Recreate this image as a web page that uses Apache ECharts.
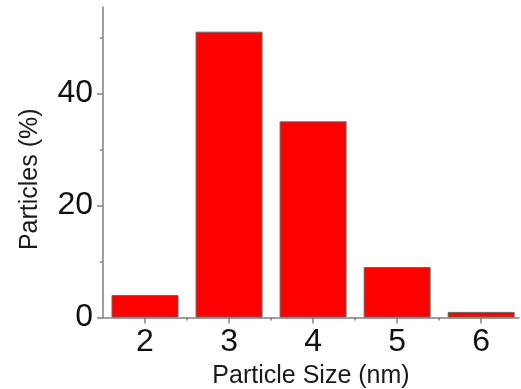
<!DOCTYPE html>
<html>
<head>
<meta charset="utf-8">
<script src="https://cdn.jsdelivr.net/npm/echarts@6/dist/echarts.min.js"></script>
<style>
html,body{margin:0;padding:0;background:#fff;}
#chart{width:521px;height:389px;}
</style>
</head>
<body>
<div id="chart"></div>
<script>
const categories = [2, 3, 4, 5, 6];
const values = [4, 51, 35, 9, 1];
const yTickValues = [0, 20, 40];
const yMinorTickValues = [10, 30, 50];
const xMinorTickValues = [2.5, 3.5, 4.5, 5.5];
const xTitle = 'Particle Size (nm)';
const yTitle = 'Particles (%)';

const FONT = '"Liberation Sans", Arial, sans-serif';
const AXIS_COLOR = '#808080';
const xMin = 1.5, xMax = 6.45, yMin = 0, yMax = 55.4;

const chart = echarts.init(document.getElementById('chart'), null, {renderer: 'canvas'});
chart.setOption({
  animation: false,
  backgroundColor: '#ffffff',
  grid: {left: 103, right: 2, top: 7, bottom: 71.5, containLabel: false, outerBoundsMode: 'none'},
  xAxis: [{
    type: 'value', min: xMin, max: xMax, position: 'bottom',
    name: xTitle, nameLocation: 'middle', nameGap: 46,
    nameTextStyle: {fontFamily: FONT, fontSize: 25, color: '#1a1a1a'},
    axisLine: {show: true, lineStyle: {color: AXIS_COLOR, width: 1.5}},
    axisTick: {show: true, customValues: categories, length: 6, lineStyle: {color: AXIS_COLOR, width: 1.5}},
    axisLabel: {customValues: categories, fontFamily: FONT, fontSize: 32, color: '#111', margin: 9},
    splitLine: {show: false}
  }, {
    type: 'value', min: xMin, max: xMax, position: 'bottom',
    axisLine: {show: false},
    axisTick: {show: true, customValues: xMinorTickValues, length: 3, lineStyle: {color: AXIS_COLOR, width: 1.5}},
    axisLabel: {show: false},
    splitLine: {show: false}
  }],
  yAxis: [{
    type: 'value', min: yMin, max: yMax,
    name: yTitle, nameLocation: 'middle', nameGap: 60,
    nameTextStyle: {fontFamily: FONT, fontSize: 25, color: '#1a1a1a', padding: [0, 34, 0, 0]},
    axisLine: {show: true, lineStyle: {color: AXIS_COLOR, width: 1.5}},
    axisTick: {show: true, customValues: yTickValues, length: 6, lineStyle: {color: AXIS_COLOR, width: 1.5}},
    axisLabel: {customValues: yTickValues, fontFamily: FONT, fontSize: 32, color: '#111', margin: 10},
    splitLine: {show: false}
  }, {
    type: 'value', min: yMin, max: yMax, position: 'left',
    axisLine: {show: false},
    axisTick: {show: true, customValues: yMinorTickValues, length: 3, lineStyle: {color: AXIS_COLOR, width: 1.5}},
    axisLabel: {show: false},
    splitLine: {show: false}
  }],
  series: [{
    type: 'bar',
    xAxisIndex: 0, yAxisIndex: 0,
    barWidth: 67,
    data: categories.map((c, i) => [c, values[i]]),
    itemStyle: {color: '#ff0000', borderColor: '#666666', borderWidth: 1}
  }]
});
</script>
</body>
</html>
